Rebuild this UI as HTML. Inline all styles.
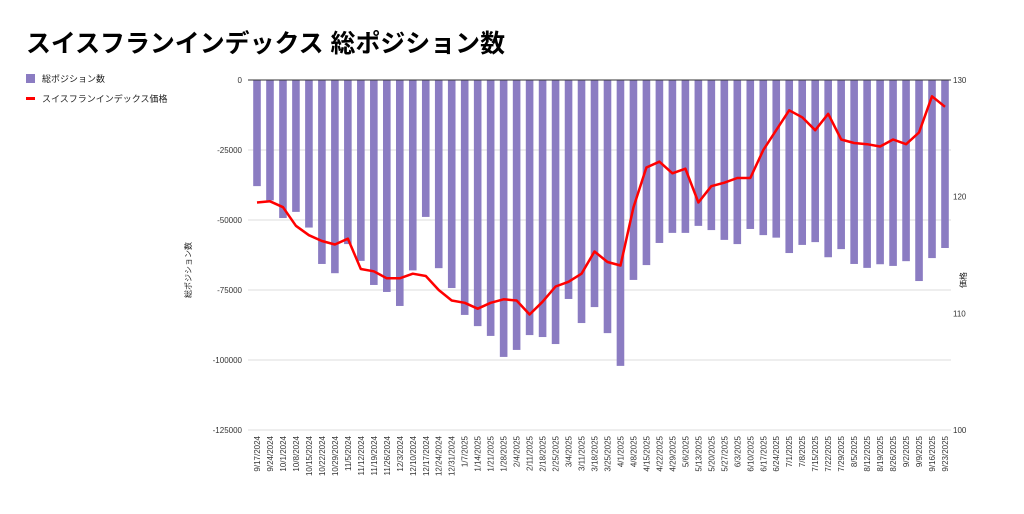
<!DOCTYPE html>
<html><head><meta charset="utf-8"><style>
body{margin:0;background:#fff;}
svg text{font-family:"Liberation Sans","Noto Sans CJK JP",sans-serif;}
</style></head><body>
<svg id="c" width="1024" height="509" xmlns="http://www.w3.org/2000/svg">
<rect width="1024" height="509" fill="#fff"/>
<text x="26" y="52" font-size="25" font-weight="bold" fill="#000" textLength="479" lengthAdjust="spacingAndGlyphs">スイスフランインデックス 総ポジション数</text>
<rect x="26" y="74" width="9" height="9" fill="#8b7cc2"/>
<text x="42" y="82" font-size="9" fill="#222">総ポジション数</text>
<rect x="26" y="97" width="9" height="3" fill="#f00"/>
<text x="42" y="102" font-size="9" fill="#222">スイスフランインデックス価格</text>
<text transform="translate(191,270) rotate(-90)" font-size="8" text-anchor="middle" fill="#222">総ポジション数</text>
<text transform="translate(966,280) rotate(-90)" font-size="8" text-anchor="middle" fill="#222">価格</text>
<g id="g"></g>
</svg>
<script>
var bars=[-37900,-43000,-49300,-47100,-52700,-65700,-69000,-58600,-64600,-73200,-75700,-80700,-68000,-48900,-67200,-74300,-83900,-87900,-91400,-98900,-96400,-91100,-91800,-94300,-78200,-86800,-81100,-90400,-102100,-71400,-66100,-58200,-54600,-54600,-52100,-53600,-57100,-58600,-53200,-55400,-56300,-61800,-58900,-57900,-63300,-60400,-65700,-67100,-65800,-66400,-64700,-71800,-63600,-60000];
var pr=[119.5,119.6,119.1,117.5,116.7,116.2,115.9,116.4,113.8,113.6,113.0,113.0,113.4,113.2,112.0,111.1,110.9,110.4,110.9,111.2,111.1,109.9,111.0,112.3,112.7,113.4,115.3,114.4,114.1,119.1,122.5,123.0,122.0,122.4,119.5,120.9,121.2,121.6,121.6,124.0,125.7,127.4,126.8,125.7,127.1,124.9,124.6,124.5,124.3,124.9,124.5,125.5,128.6,127.7];
var labels="9/17/2024,9/24/2024,10/1/2024,10/8/2024,10/15/2024,10/22/2024,10/29/2024,11/5/2024,11/12/2024,11/19/2024,11/26/2024,12/3/2024,12/10/2024,12/17/2024,12/24/2024,12/31/2024,1/7/2025,1/14/2025,1/21/2025,1/28/2025,2/4/2025,2/11/2025,2/18/2025,2/25/2025,3/4/2025,3/11/2025,3/18/2025,3/25/2025,4/1/2025,4/8/2025,4/15/2025,4/22/2025,4/29/2025,5/6/2025,5/13/2025,5/20/2025,5/27/2025,6/3/2025,6/10/2025,6/17/2025,6/24/2025,7/1/2025,7/8/2025,7/15/2025,7/22/2025,7/29/2025,8/5/2025,8/12/2025,8/19/2025,8/26/2025,9/2/2025,9/9/2025,9/16/2025,9/23/2025".split(",");
var s="";
var L=248,R=951,T=80,B=430;
for(var i=1;i<=5;i++){var y=T+i*70;s+='<line x1="'+L+'" x2="'+R+'" y1="'+y+'" y2="'+y+'" stroke="#ddd" stroke-width="1"/>';}
var lt=["0","-25000","-50000","-75000","-100000","-125000"];
for(var i=0;i<6;i++){var y=T+i*70;s+='<text x="242" y="'+(y+3)+'" font-size="8" text-anchor="end" fill="#333">'+lt[i]+'</text>';}
var rt=[130,120,110,100];
for(var i=0;i<4;i++){var y=T+(130-rt[i])/30*350;s+='<text x="953" y="'+(y+3)+'" font-size="8" fill="#333">'+rt[i]+'</text>';}
var x0=257,dx=(945-257)/53;
for(var i=0;i<54;i++){var x=x0+i*dx;var h=-bars[i]/125000*350;
s+='<rect x="'+(x-3.8)+'" y="'+T+'" width="7.6" height="'+h+'" fill="#8b7cc2"/>';
s+='<text transform="translate('+(x+3)+',436) rotate(-90)" font-size="8" text-anchor="end" fill="#333">'+labels[i]+'</text>';}
s+='<line x1="'+L+'" x2="'+R+'" y1="'+T+'" y2="'+T+'" stroke="#333" stroke-width="1"/>';
var p="";for(var i=0;i<54;i++){p+=(x0+i*dx).toFixed(1)+","+(T+(130-pr[i])/30*350).toFixed(1)+" ";}
s+='<polyline points="'+p+'" fill="none" stroke="#f00" stroke-width="2.5" stroke-linejoin="round"/>';
document.getElementById("g").innerHTML=s;
</script>
</body></html>
